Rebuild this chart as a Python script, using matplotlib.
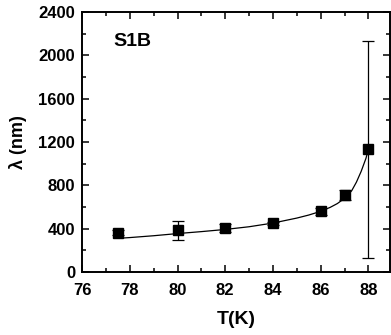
import numpy as np
import matplotlib.pyplot as plt
from matplotlib.ticker import MultipleLocator

plt.rcParams['font.family'] = ['Liberation Sans', 'DejaVu Sans']

# measured penetration depth
T = [77.5, 80, 82, 84, 86, 87, 88]
lam = [363, 385, 409, 450, 560, 711, 1132]
lam_err = [25, 88, 35, 15, 30, 45, 1000]

# fit curve
T_fit = [77.5, 78, 79, 80, 81, 82, 83, 84, 85, 85.5, 86, 86.4, 86.7, 87, 87.3, 87.5, 87.7, 87.9, 88]
lam_fit = [311, 318, 335, 355, 373, 393, 418, 452, 498, 526, 560, 597, 632, 680, 750, 830, 930, 1050, 1132]

fig = plt.figure(figsize=(3.91, 3.35), dpi=100)
ax = fig.add_axes([0.21, 0.188, 0.787, 0.776])

ax.plot(T_fit, lam_fit, color='black', lw=0.9)
ax.errorbar(T, lam, yerr=lam_err, fmt='s', color='black', ms=6.5,
            ecolor='black', elinewidth=0.9, capsize=4.5, capthick=0.9)

ax.set_xlim(76, 88.9)
ax.set_ylim(0, 2400)
ax.xaxis.set_major_locator(MultipleLocator(2))
ax.xaxis.set_minor_locator(MultipleLocator(1))
ax.yaxis.set_major_locator(MultipleLocator(400))
ax.yaxis.set_minor_locator(MultipleLocator(200))
ax.tick_params(which='both', direction='in', top=True, right=True,
               labelsize=12, width=1.1)
ax.tick_params(which='major', length=5)
ax.tick_params(which='minor', length=3)
ax.tick_params(axis='x', which='major', pad=8)
ax.tick_params(axis='y', which='major', pad=5)
for lab in ax.get_xticklabels() + ax.get_yticklabels():
    lab.set_fontweight('bold')
for s in ax.spines.values():
    s.set_linewidth(1.4)

ax.set_xlabel('T(K)', fontsize=14, fontweight='bold', labelpad=9)
ax.set_ylabel('λ (nm)', fontsize=13, fontweight='bold', labelpad=8)
ax.text(0.1, 0.87, 'S1B', transform=ax.transAxes, fontsize=14, fontweight='bold')

fig.savefig('out.png', dpi=100)
